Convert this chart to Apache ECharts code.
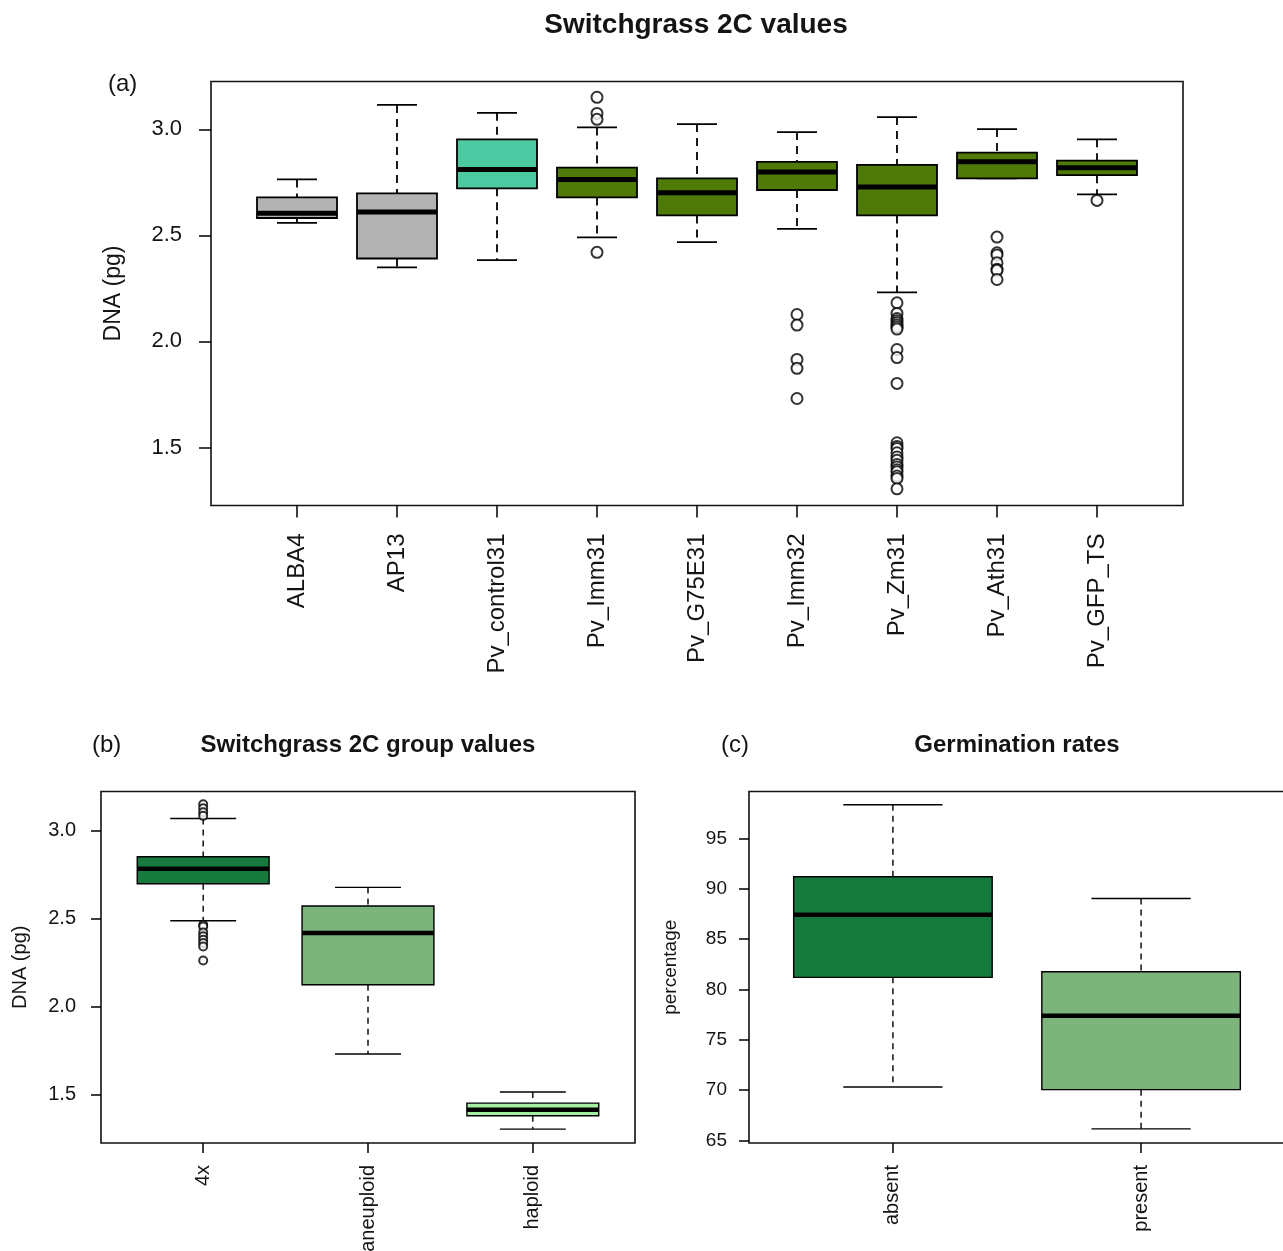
<!DOCTYPE html>
<html>
<head>
<meta charset="utf-8">
<script src="https://cdn.jsdelivr.net/npm/echarts@6/dist/echarts.min.js"></script>
<style>html,body{margin:0;padding:0;background:#fff;}#c{width:1283px;height:1251px;}</style>
</head>
<body>
<div id="c"></div>
<script>
// ---------- Panel (a) data ----------
const catsA  = ['ALBA4','AP13','Pv_control31','Pv_Imm31','Pv_G75E31','Pv_Imm32','Pv_Zm31','Pv_Ath31','Pv_GFP_TS'];
const lowA   = [2.559, 2.349, 2.383, 2.491, 2.468, 2.531, 2.231, 2.769, 2.693];
const q1A    = [2.582, 2.391, 2.722, 2.679, 2.594, 2.714, 2.594, 2.769, 2.784];
const medA   = [2.604, 2.610, 2.811, 2.764, 2.701, 2.799, 2.728, 2.847, 2.819];
const q3A    = [2.679, 2.698, 2.953, 2.819, 2.769, 2.847, 2.832, 2.890, 2.852];
const highA  = [2.764, 3.115, 3.078, 3.009, 3.025, 2.987, 3.058, 3.001, 2.953];
const outA   = [
  [],
  [],
  [],
  [3.151, 3.075, 3.047, 2.420],
  [],
  [2.127, 2.077, 1.915, 1.873, 1.731],
  [2.182, 2.132, 2.108, 2.098, 2.088, 2.078, 2.068, 2.058, 1.962, 1.924, 1.802,
   1.522, 1.505, 1.495, 1.475, 1.455, 1.440, 1.420, 1.408, 1.395, 1.385, 1.365, 1.354, 1.305],
  [2.492, 2.418, 2.408, 2.371, 2.340, 2.335, 2.292],
  [2.665]
];
const colorsA = ['#b3b3b3','#b3b3b3','#4cc9a0','#4f7a07','#4f7a07','#4f7a07','#4f7a07','#4f7a07','#4f7a07'];
const ticksA = [1.5, 2.0, 2.5, 3.0];

// ---------- Panel (b) data ----------
const catsB  = ['4x','aneuploid','haploid'];
const lowB   = [2.488, 1.730, 1.303];
const q1B    = [2.699, 2.124, 1.379];
const medB   = [2.784, 2.418, 1.413];
const q3B    = [2.852, 2.572, 1.451];
const highB  = [3.070, 2.678, 1.514];
const outB   = [
  [3.151, 3.128, 3.105, 3.085, 2.465, 2.455, 2.422, 2.400, 2.380, 2.361, 2.342, 2.262],
  [],
  []
];
const colorsB = ['#167a3e','#7db47b','#a3eea0'];
const ticksB = [1.5, 2.0, 2.5, 3.0];

// ---------- Panel (c) data ----------
const catsC  = ['absent','present'];
const lowC   = [70.31, 66.14];
const q1C    = [81.20, 70.04];
const medC   = [87.42, 77.39];
const q3C    = [91.20, 81.76];
const highC  = [98.35, 89.04];
const colorsC = ['#167a3e','#7db47b'];
const ticksC = [65, 70, 75, 80, 85, 90, 95];

const FONT = "'Liberation Sans', Arial, sans-serif";
const TXT = '#141414';

function boxData(low, q1, med, q3, high) {
  return low.map((v, i) => [i + 1, low[i], q1[i], med[i], q3[i], high[i]]);
}
function outData(out) {
  const d = [];
  out.forEach((arr, i) => arr.forEach(v => d.push([i + 1, v])));
  return d;
}
function boxRender(colors, opt) {
  return function (params, api) {
    const i = params.dataIndex;
    const x = api.value(0), lo = api.value(1), q1 = api.value(2), md = api.value(3), q3 = api.value(4), hi = api.value(5);
    const pHi = api.coord([x, hi]), pQ3 = api.coord([x, q3]), pQ1 = api.coord([x, q1]), pLo = api.coord([x, lo]), pMd = api.coord([x, md]);
    const bL = api.coord([x - 0.4, q3])[0], bR = api.coord([x + 0.4, q3])[0];
    const cL = api.coord([x - 0.2, q3])[0], cR = api.coord([x + 0.2, q3])[0];
    const dashStyle = { stroke: '#000', lineWidth: opt.wl, lineDash: opt.dash, fill: null };
    const solid = { stroke: '#000', lineWidth: opt.wl, fill: null };
    return {
      type: 'group',
      children: [
        { type: 'line', shape: { x1: pHi[0], y1: pHi[1], x2: pQ3[0], y2: pQ3[1] }, style: dashStyle },
        { type: 'line', shape: { x1: pQ1[0], y1: pQ1[1], x2: pLo[0], y2: pLo[1] }, style: dashStyle },
        { type: 'line', shape: { x1: cL, y1: pHi[1], x2: cR, y2: pHi[1] }, style: solid },
        { type: 'line', shape: { x1: cL, y1: pLo[1], x2: cR, y2: pLo[1] }, style: solid },
        { type: 'rect', shape: { x: bL, y: pQ3[1], width: bR - bL, height: pQ1[1] - pQ3[1] },
          style: { fill: colors[i], stroke: '#000', lineWidth: opt.bl } },
        { type: 'line', shape: { x1: bL, y1: pMd[1], x2: bR, y2: pMd[1] }, style: { stroke: '#000', lineWidth: opt.ml } }
      ]
    };
  };
}
function xAx(grid, n, cats, fs, margin, tl) {
  const vals = cats.map((c, i) => i + 1);
  const lo = 0.5 - n * 0.04, hi = n + 0.5 + n * 0.04; // R-style xlim extended by 4%
  return {
    gridIndex: grid, type: 'value', min: lo, max: hi,
    axisLine: { show: false }, splitLine: { show: false },
    axisTick: { show: true, length: tl, customValues: vals, lineStyle: { color: '#000', width: 1.5 } },
    axisLabel: { customValues: vals, formatter: v => cats[Math.round(v) - 1], rotate: 90, margin: margin,
      fontSize: fs, fontFamily: FONT, color: TXT }
  };
}
function yAx(grid, lo, hi, ticks, fs, margin, tl, name, nfs, ngap, dec) {
  return {
    gridIndex: grid, type: 'value', min: lo, max: hi,
    axisLine: { show: false }, splitLine: { show: false },
    axisTick: { show: true, length: tl, customValues: ticks, lineStyle: { color: '#000', width: 1.5 } },
    axisLabel: { customValues: ticks, formatter: v => v.toFixed(dec), margin: margin, fontSize: fs, fontFamily: FONT, color: TXT },
    name: name, nameLocation: 'middle', nameGap: ngap, nameRotate: 90,
    nameTextStyle: { fontSize: nfs, fontFamily: FONT, color: TXT }
  };
}
const gridStyle = { show: true, borderColor: '#111', borderWidth: 1.6, backgroundColor: 'transparent',
  outerBoundsMode: 'none', containLabel: false };

const chart = echarts.init(document.getElementById('c'), null, { renderer: 'canvas' });
chart.setOption({
  animation: false,
  backgroundColor: '#fff',
  grid: [
    Object.assign({ left: 211, top: 81.5, width: 972, height: 424 }, gridStyle),
    Object.assign({ left: 101, top: 791.5, width: 534, height: 351.5 }, gridStyle),
    Object.assign({ left: 749, top: 791.5, width: 536, height: 351.5 }, gridStyle)
  ],
  xAxis: [
    xAx(0, 9, catsA, 24, 28, 12),
    xAx(1, 3, catsB, 20, 22, 10),
    xAx(2, 2, catsC, 20, 22, 10)
  ],
  yAxis: [
    yAx(0, 1.2264, 3.2255, ticksA, 22, 29, 12, 'DNA (pg)', 23, 86, 1),
    yAx(1, 1.224, 3.2235, ticksB, 20, 25, 10, 'DNA (pg)', 20, 71, 1),
    yAx(2, 64.74, 99.67, ticksC, 19, 22, 10, 'percentage', 19, 69, 0)
  ],
  graphic: [
    { type: 'text', x: 696, y: 25, style: { text: 'Switchgrass 2C values', font: "bold 28px " + FONT, fill: TXT, align: 'center', verticalAlign: 'middle' } },
    { type: 'text', x: 108, y: 84, style: { text: '(a)', font: "24px " + FONT, fill: TXT, align: 'left', verticalAlign: 'middle' } },
    { type: 'text', x: 368, y: 745, style: { text: 'Switchgrass 2C group values', font: "bold 24px " + FONT, fill: TXT, align: 'center', verticalAlign: 'middle' } },
    { type: 'text', x: 92, y: 745, style: { text: '(b)', font: "24px " + FONT, fill: TXT, align: 'left', verticalAlign: 'middle' } },
    { type: 'text', x: 1017, y: 745, style: { text: 'Germination rates', font: "bold 24px " + FONT, fill: TXT, align: 'center', verticalAlign: 'middle' } },
    { type: 'text', x: 721, y: 745, style: { text: '(c)', font: "24px " + FONT, fill: TXT, align: 'left', verticalAlign: 'middle' } }
  ],
  series: [
    { type: 'custom', xAxisIndex: 0, yAxisIndex: 0, data: boxData(lowA, q1A, medA, q3A, highA),
      encode: { x: 0, y: [1, 2, 3, 4, 5] }, renderItem: boxRender(colorsA, { wl: 1.8, bl: 1.8, ml: 5, dash: [8, 6] }) },
    { type: 'scatter', xAxisIndex: 0, yAxisIndex: 0, data: outData(outA), symbol: 'emptyCircle', symbolSize: 11,
      itemStyle: { color: '#000', borderColor: '#000', borderWidth: 1.3 }, z: 3 },
    { type: 'custom', xAxisIndex: 1, yAxisIndex: 1, data: boxData(lowB, q1B, medB, q3B, highB),
      encode: { x: 0, y: [1, 2, 3, 4, 5] }, renderItem: boxRender(colorsB, { wl: 1.4, bl: 1.4, ml: 4.5, dash: [6, 5] }) },
    { type: 'scatter', xAxisIndex: 1, yAxisIndex: 1, data: outData(outB), symbol: 'emptyCircle', symbolSize: 8,
      itemStyle: { color: '#000', borderColor: '#000', borderWidth: 1.1 }, z: 3 },
    { type: 'custom', xAxisIndex: 2, yAxisIndex: 2, data: boxData(lowC, q1C, medC, q3C, highC),
      encode: { x: 0, y: [1, 2, 3, 4, 5] }, renderItem: boxRender(colorsC, { wl: 1.4, bl: 1.4, ml: 4.5, dash: [6, 5] }) }
  ]
});
</script>
</body>
</html>
